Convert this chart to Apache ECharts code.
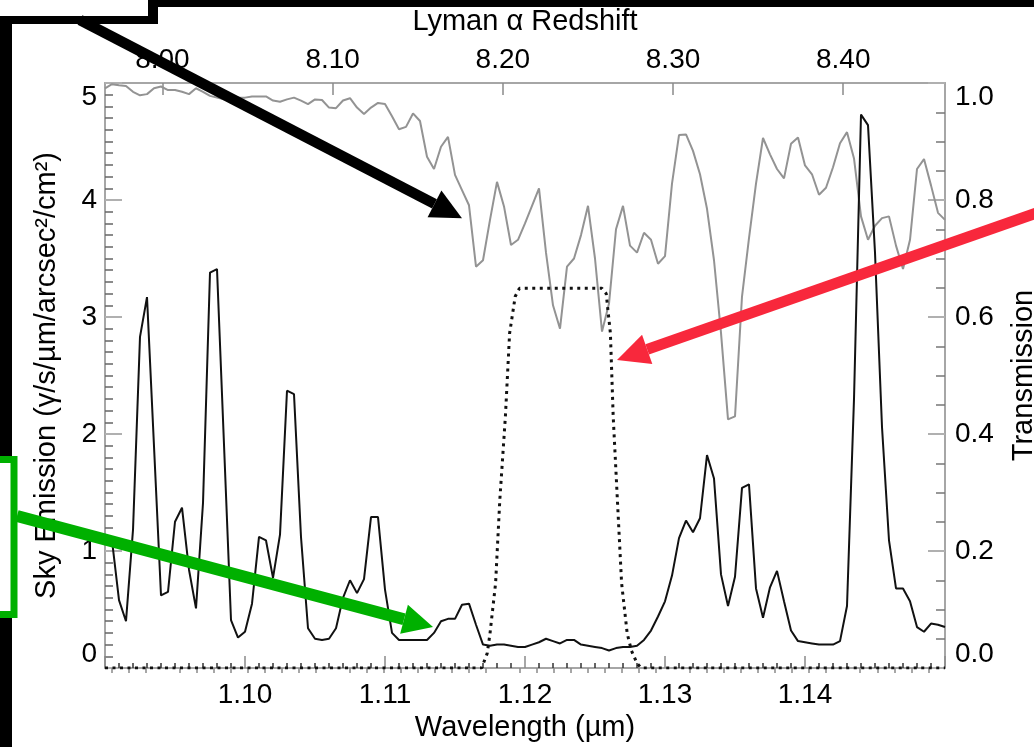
<!DOCTYPE html>
<html>
<head>
<meta charset="utf-8">
<title>Sky emission and transmission near 1.12 µm</title>
<script src="https://cdn.jsdelivr.net/npm/echarts@6/dist/echarts.min.js"></script>
<style>
  html, body { margin: 0; padding: 0; background: #fff; }
  #chart { width: 1034px; height: 747px; }
</style>
</head>
<body>
<div id="chart"></div>
<script>
// Wavelength sampling of the atmospheric transmission curve (µm)
const wavelengthGrid = [
  1.0900, 1.0905, 1.0910, 1.0915, 1.0920, 1.0925, 1.0930, 1.0935, 1.0940, 1.0945,
  1.0950, 1.0955, 1.0960, 1.0965, 1.0970, 1.0975, 1.0980, 1.0985, 1.0990, 1.0995,
  1.1000, 1.1005, 1.1010, 1.1015, 1.1020, 1.1025, 1.1030, 1.1035, 1.1040, 1.1045,
  1.1050, 1.1055, 1.1060, 1.1065, 1.1070, 1.1075, 1.1080, 1.1085, 1.1090, 1.1095,
  1.1100, 1.1105, 1.1110, 1.1115, 1.1120, 1.1125, 1.1130, 1.1135, 1.1140, 1.1145,
  1.1150, 1.1155, 1.1160, 1.1165, 1.1170, 1.1175, 1.1180, 1.1185, 1.1190, 1.1195,
  1.1200, 1.1205, 1.1210, 1.1215, 1.1220, 1.1225, 1.1230, 1.1235, 1.1240, 1.1245,
  1.1250, 1.1255, 1.1260, 1.1265, 1.1270, 1.1275, 1.1280, 1.1285, 1.1290, 1.1295,
  1.1300, 1.1305, 1.1310, 1.1315, 1.1320, 1.1325, 1.1330, 1.1335, 1.1340, 1.1345,
  1.1350, 1.1355, 1.1360, 1.1365, 1.1370, 1.1375, 1.1380, 1.1385, 1.1390, 1.1395,
  1.1400, 1.1405, 1.1410, 1.1415, 1.1420, 1.1425, 1.1430, 1.1435, 1.1440, 1.1445,
  1.1450, 1.1455, 1.1460, 1.1465, 1.1470, 1.1475, 1.1480, 1.1485, 1.1490, 1.1495,
  1.1500
];

// Atmospheric transmission (right axis, 0..1)
const transmission = [
  0.991, 0.998, 0.996, 0.995, 0.985, 0.979, 0.981, 0.991, 0.994, 0.988,
  0.988, 0.985, 0.981, 0.991, 0.985, 0.978, 0.975, 0.972, 0.975, 0.975,
  0.975, 0.977, 0.977, 0.977, 0.970, 0.968, 0.972, 0.975, 0.970, 0.964,
  0.972, 0.971, 0.958, 0.957, 0.970, 0.974, 0.958, 0.947, 0.958, 0.966,
  0.964, 0.943, 0.921, 0.925, 0.948, 0.935, 0.874, 0.853, 0.891, 0.908,
  0.843, 0.817, 0.791, 0.686, 0.697, 0.766, 0.831, 0.789, 0.723, 0.732,
  0.760, 0.790, 0.820, 0.710, 0.620, 0.580, 0.686, 0.700, 0.740, 0.790,
  0.700, 0.575, 0.623, 0.750, 0.790, 0.722, 0.710, 0.744, 0.732, 0.691,
  0.704, 0.828, 0.911, 0.912, 0.884, 0.844, 0.785, 0.697, 0.573, 0.425,
  0.430, 0.635, 0.735, 0.828, 0.906, 0.878, 0.853, 0.837, 0.896, 0.907,
  0.859, 0.844, 0.809, 0.821, 0.856, 0.897, 0.916, 0.871, 0.772, 0.732,
  0.756, 0.769, 0.772, 0.722, 0.682, 0.732, 0.853, 0.870, 0.825, 0.778,
  0.766
];

// Sky emission spectrum vertices (µm)
const skyWavelength = [
  1.0900, 1.0905, 1.0910, 1.0915, 1.0920, 1.0925, 1.0930,
  1.0940, 1.0945, 1.0950, 1.0955, 1.0960, 1.0965, 1.0970, 1.0975, 1.0980,
  1.0990, 1.0995,
  1.1000, 1.1005, 1.1010, 1.1015, 1.1020, 1.1025, 1.1030, 1.1035, 1.1040, 1.1045,
  1.1050, 1.1055, 1.1060, 1.1065, 1.1070, 1.1075, 1.1080, 1.1085, 1.1090, 1.1095,
  1.1100, 1.1105, 1.1110, 1.1115, 1.1120, 1.1125, 1.1130, 1.1135, 1.1140, 1.1145,
  1.1150, 1.1155, 1.1160, 1.1165, 1.1170, 1.1175, 1.1180, 1.1185, 1.1190, 1.1195,
  1.1200, 1.1205, 1.1210, 1.1215, 1.1220, 1.1225, 1.1230, 1.1235, 1.1240, 1.1245,
  1.1250, 1.1255, 1.1260, 1.1265, 1.1270, 1.1275, 1.1280, 1.1285, 1.1290, 1.1295,
  1.1300, 1.1305, 1.1310, 1.1315, 1.1320, 1.1325, 1.1330, 1.1335, 1.1340, 1.1345,
  1.1350, 1.1355, 1.1360, 1.1365, 1.1370, 1.1375, 1.1380, 1.1385, 1.1390, 1.1395,
  1.1400, 1.1405, 1.1410, 1.1415, 1.1420, 1.1425, 1.1430, 1.1435, 1.1440, 1.1445,
  1.1450, 1.1455, 1.1460, 1.1465, 1.1470, 1.1475, 1.1480, 1.1485, 1.1490, 1.1495,
  1.1500
];

// Sky emission (left axis, γ/s/µm/arcsec²/cm²)
const skyEmission = [
  1.14, 1.09, 0.58, 0.40, 1.18, 2.83, 3.17,
  0.62, 0.65, 1.25, 1.37, 0.84, 0.51, 1.41, 3.38, 3.41,
  0.41, 0.26,
  0.31, 0.55, 1.12, 1.09, 0.77, 1.14, 2.37, 2.34, 1.12, 0.34,
  0.25, 0.24, 0.25, 0.34, 0.60, 0.75, 0.64, 0.76, 1.29, 1.29,
  0.67, 0.30, 0.24, 0.24, 0.24, 0.24, 0.24, 0.30, 0.40, 0.42,
  0.42, 0.54, 0.55, 0.37, 0.20, 0.19, 0.20, 0.20, 0.19, 0.18,
  0.18, 0.20, 0.22, 0.25, 0.23, 0.21, 0.24, 0.24, 0.20, 0.19,
  0.18, 0.17, 0.15, 0.17, 0.18, 0.18, 0.19, 0.24, 0.32, 0.44,
  0.57, 0.79, 1.11, 1.26, 1.16, 1.28, 1.82, 1.62, 0.80, 0.53,
  0.78, 1.54, 1.57, 0.68, 0.43, 0.69, 0.83, 0.57, 0.32, 0.23,
  0.22, 0.21, 0.20, 0.20, 0.20, 0.23, 0.53, 2.30, 4.73, 4.64,
  3.55, 2.06, 1.09, 0.68, 0.68, 0.57, 0.35, 0.31, 0.38, 0.37,
  0.35
];

// Narrow-band filter profile (right axis)
const filterWavelength = [
  1.0900, 1.1169, 1.1173, 1.1175, 1.1179, 1.1182, 1.1186, 1.1189, 1.1193, 1.1196,
  1.1255, 1.1258, 1.1261, 1.1263, 1.1266, 1.1269, 1.1273, 1.1276, 1.1280, 1.1283,
  1.1500
];
const filterTransmission = [
  0, 0, 0.025, 0.059, 0.145, 0.287, 0.430, 0.572, 0.635, 0.649,
  0.649, 0.640, 0.572, 0.430, 0.287, 0.145, 0.059, 0.030, 0.008, 0,
  0
];

// Axis ranges and tick labels
const wavelengthRange = [1.09, 1.15];
const redshiftTicks = [8.00, 8.10, 8.20, 8.30, 8.40];
const LYMAN_ALPHA = 0.121567; // rest wavelength, µm

const zMin = wavelengthRange[0] / LYMAN_ALPHA - 1;
const zMax = wavelengthRange[1] / LYMAN_ALPHA - 1;

// Minor redshift ticks every 0.01 between the labelled ones
const redshiftMinor = [];
for (let k = Math.ceil(zMin * 100); k <= Math.floor(zMax * 100); k++) {
  if (k % 10 !== 0) redshiftMinor.push(k / 100);
}

const FONT = 'Liberation Sans';
const TICK_FONT = 28;
const TITLE_FONT = 29;
const AXIS_GREY = '#a6a6a6';

const pairs = (xs, ys) => xs.map((x, i) => [x, ys[i]]);

const chart = echarts.init(document.getElementById('chart'), null, { renderer: 'canvas' });

chart.setOption({
  animation: false,
  backgroundColor: '#ffffff',
  textStyle: { fontFamily: FONT, color: '#000' },
  grid: { left: 105, right: 89, top: 83, bottom: 79, containLabel: false, outerBoundsMode: 'none' },
  xAxis: [
    {
      type: 'value',
      position: 'bottom',
      min: wavelengthRange[0],
      max: wavelengthRange[1],
      interval: 0.01,
      name: 'Wavelength (µm)',
      nameLocation: 'middle',
      nameGap: 44,
      nameTextStyle: { fontFamily: FONT, fontSize: TITLE_FONT, color: '#000' },
      axisLine: { show: true, onZero: false, lineStyle: { color: AXIS_GREY, width: 2 } },
      axisTick: { show: true, inside: true, length: 12, lineStyle: { color: '#8a8a8a', width: 1.5 } },
      minorTick: { show: true, splitNumber: 10, length: 5, lineStyle: { color: '#333', width: 1.5 } },
      axisLabel: {
        show: true, margin: 13, fontFamily: FONT, fontSize: TICK_FONT, color: '#000',
        showMinLabel: false, showMaxLabel: false,
        formatter: (v) => v.toFixed(2)
      },
      splitLine: { show: false }
    },
    {
      type: 'value',
      position: 'top',
      min: zMin,
      max: zMax,
      name: 'Lyman α Redshift',
      nameLocation: 'middle',
      nameGap: 47,
      nameTextStyle: { fontFamily: FONT, fontSize: TITLE_FONT, color: '#000' },
      axisLine: { show: true, onZero: false, lineStyle: { color: AXIS_GREY, width: 2 } },
      axisTick: { show: true, inside: true, length: 12, customValues: redshiftTicks, lineStyle: { color: '#8a8a8a', width: 1.5 } },
      axisLabel: {
        show: true, margin: 9, fontFamily: FONT, fontSize: TICK_FONT, color: '#000',
        customValues: redshiftTicks,
        formatter: (v) => v.toFixed(2)
      },
      splitLine: { show: false }
    },
    {
      type: 'value',
      position: 'top',
      min: zMin,
      max: zMax,
      axisLine: { show: false },
      axisTick: { show: true, inside: true, length: 5, customValues: redshiftMinor, lineStyle: { color: '#8a8a8a', width: 1.5 } },
      axisLabel: { show: false },
      splitLine: { show: false }
    }
  ],
  yAxis: [
    {
      type: 'value',
      position: 'left',
      min: 0,
      max: 5,
      interval: 1,
      name: 'Sky Emission (γ/s/µm/arcsec²/cm²)',
      nameLocation: 'middle',
      nameRotate: 90,
      nameGap: 44,
      nameTextStyle: { fontFamily: FONT, fontSize: TITLE_FONT, color: '#000' },
      axisLine: { show: true, onZero: false, lineStyle: { color: AXIS_GREY, width: 2 } },
      axisTick: { show: true, inside: true, length: 17, lineStyle: { color: '#b0b0b0', width: 2 } },
      minorTick: { show: true, splitNumber: 10, length: 8, lineStyle: { color: '#666', width: 1.5 } },
      axisLabel: {
        show: true, margin: 8, fontFamily: FONT, fontSize: TICK_FONT, color: '#000',
        verticalAlignMaxLabel: 'top', verticalAlignMinLabel: 'bottom'
      },
      splitLine: { show: false }
    },
    {
      type: 'value',
      position: 'right',
      min: 0,
      max: 1,
      interval: 0.2,
      name: 'Transmission',
      nameLocation: 'middle',
      nameRotate: 90,
      nameGap: 64,
      nameTextStyle: { fontFamily: FONT, fontSize: TITLE_FONT, color: '#000' },
      axisLine: { show: true, onZero: false, lineStyle: { color: AXIS_GREY, width: 2 } },
      axisTick: { show: true, inside: true, length: 17, lineStyle: { color: '#b0b0b0', width: 2 } },
      minorTick: { show: true, splitNumber: 4, length: 9, lineStyle: { color: '#777', width: 1.5 } },
      axisLabel: {
        show: true, margin: 10, fontFamily: FONT, fontSize: TICK_FONT, color: '#000',
        verticalAlignMaxLabel: 'top', verticalAlignMinLabel: 'bottom',
        formatter: (v) => v.toFixed(1)
      },
      splitLine: { show: false }
    }
  ],
  series: [
    {
      name: 'Atmospheric transmission',
      type: 'line',
      xAxisIndex: 0,
      yAxisIndex: 1,
      data: pairs(wavelengthGrid, transmission),
      symbol: 'none',
      lineStyle: { color: '#939393', width: 2 },
      z: 2
    },
    {
      name: 'Filter',
      type: 'line',
      xAxisIndex: 0,
      yAxisIndex: 1,
      data: pairs(filterWavelength, filterTransmission),
      symbol: 'none',
      lineStyle: { color: '#111', width: 3, type: [3, 4.5] },
      z: 3
    },
    {
      name: 'Sky emission',
      type: 'line',
      xAxisIndex: 0,
      yAxisIndex: 0,
      data: pairs(skyWavelength, skyEmission),
      symbol: 'none',
      lineStyle: { color: '#111', width: 2 },
      z: 4
    }
  ]
});

// Arrow made of a shaft polygon and a triangular head
function arrow(start, tip, width, headLen, headHalf, color) {
  const dx = tip[0] - start[0], dy = tip[1] - start[1];
  const len = Math.hypot(dx, dy);
  const ux = dx / len, uy = dy / len, px = -uy, py = ux;
  const bx = tip[0] - ux * headLen, by = tip[1] - uy * headLen;
  const h = width / 2;
  return [
    {
      type: 'polygon', z: 100, silent: true,
      shape: { points: [
        [start[0] + px * h, start[1] + py * h], [bx + px * h, by + py * h],
        [bx - px * h, by - py * h], [start[0] - px * h, start[1] - py * h]
      ] },
      style: { fill: color }
    },
    {
      type: 'polygon', z: 100, silent: true,
      shape: { points: [tip, [bx + px * headHalf, by + py * headHalf], [bx - px * headHalf, by - py * headHalf]] },
      style: { fill: color }
    }
  ];
}

// Arrow tips sit on the curves they point at
const tipTransmission = chart.convertToPixel({ xAxisIndex: 0, yAxisIndex: 1 }, [1.1155, 0.769]);
const tipFilter = chart.convertToPixel({ xAxisIndex: 0, yAxisIndex: 1 }, [1.12657, 0.5265]);
const tipSky = chart.convertToPixel({ xAxisIndex: 0, yAxisIndex: 0 }, [1.11343, 0.35]);

const BLACK = '#000000', RED = '#f8283c', GREEN = '#00b000';

const frame = [
  { type: 'rect', z: 100, silent: true, shape: { x: 148, y: 0, width: 886, height: 7 }, style: { fill: BLACK } },
  { type: 'rect', z: 100, silent: true, shape: { x: 148, y: 0, width: 10, height: 24 }, style: { fill: BLACK } },
  { type: 'rect', z: 100, silent: true, shape: { x: 0, y: 16, width: 158, height: 8 }, style: { fill: BLACK } },
  { type: 'rect', z: 100, silent: true, shape: { x: 0, y: 16, width: 12, height: 442 }, style: { fill: BLACK } },
  { type: 'rect', z: 100, silent: true, shape: { x: 0, y: 618, width: 12, height: 129 }, style: { fill: BLACK } },
  { type: 'rect', z: 101, silent: true, shape: { x: -10, y: 459.5, width: 24, height: 155 },
    style: { fill: '#ffffff', stroke: GREEN, lineWidth: 7 } }
];

chart.setOption({
  graphic: {
    elements: [
      ...frame,
      ...arrow([80, 20], tipTransmission, 10.5, 31, 15, BLACK),
      ...arrow([1042, 211], tipFilter, 11, 32, 15.5, RED),
      ...arrow([17, 516], tipSky, 12, 30, 15, GREEN)
    ]
  }
});
</script>
</body>
</html>
